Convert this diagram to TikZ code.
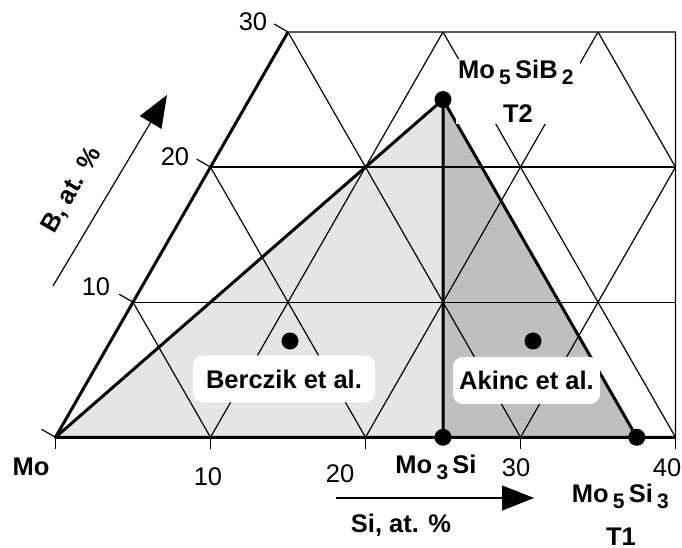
\documentclass[tikz,border=0pt]{standalone}
\usepackage{fontspec}
\setmainfont{Liberation Sans}
\usetikzlibrary{arrows.meta}
\newcommand{\chemsub}[1]{\,\raisebox{-6bp}{\fontsize{21bp}{21bp}\selectfont #1}\,}
\begin{document}
\begin{tikzpicture}[x={(15.5bp,0bp)}, y={(7.75bp,13.51bp)},
        gridline/.style={line width=1.2bp},
        axis/.style={line width=3bp, line join=round},
        tick/.style={line width=1.2bp},
        num/.style={font=\fontsize{25.5bp}{30bp}\selectfont},
        lbl/.style={font=\fontsize{25.5bp}{30bp}\selectfont\bfseries},
        refbox/.style={lbl, fill=white, rounded corners=10bp, minimum height=47bp, inner xsep=0pt},
        dot/.style={circle, fill=black, minimum size=17bp, inner sep=0pt},
        axisarrow/.style={line width=1.2bp, -{Triangle[length=32bp, width=25bp]}}]
    \useasboundingbox (-55.5bp,-110.7bp) rectangle (626.5bp,437.3bp);

    % compositions (Si, B in at.%)
    \coordinate (mo) at (0,0);
    \coordinate (mosib) at (12.5,25);
    \coordinate (mo3si) at (25,0);
    \coordinate (mo5si3) at (37.5,0);
    \coordinate (siend) at (40,0);
    \coordinate (bend) at (0,30);
    \coordinate (corner) at (25,30);

    % phase fields
    \fill[black!10] (mo) -- (mosib) -- (mo3si) -- cycle;
    \fill[black!25] (mo3si) -- (mosib) -- (mo5si3) -- cycle;

    % triangular grid
    \begin{scope}
        \clip (mo) -- (bend) -- (corner) -- (siend) -- cycle;
        \foreach \b in {10,20} \draw[gridline] (0,\b) -- (40,\b);
        \foreach \s in {10,20,30} \draw[gridline] (\s,0) -- (\s,30);
        \foreach \c in {10,20,...,50} \draw[gridline] (\c,0) -- ({\c-30},30);
    \end{scope}
    \draw[gridline] (bend) -- (corner) -- (siend);

    % axes and ticks
    \draw[axis] (bend) -- (mo) -- (siend);
    \foreach \s in {0,10,...,40} \draw[tick] (\s,0) -- ++(0bp,-12bp);
    \foreach \b in {0,10,20,30} \draw[tick] (0,\b) -- ++(150:16bp);

    \draw (152.5bp,-39.7bp) node[num] (s10) {10};
    \draw (284.5bp,-36.7bp) node[num] (s20) {20};
    \draw (460.5bp,-30.7bp) node[num] (s30) {30};
    \draw (611.5bp,-30.7bp) node[num] (s40) {40};
    \draw (40.5bp,150.3bp) node[num] (b10) {10};
    \draw (119.5bp,280.3bp) node[num] (b20) {20};
    \draw (197.5bp,415.3bp) node[num] (b30) {30};

    % tie lines
    \draw[axis] (mo) -- (mosib) -- (mo5si3);
    \draw[axis] (mosib) -- (mo3si);

    % axis arrows
    \coordinate (barrow0) at (-2.5bp,151.3bp);
    \coordinate (barrow1) at (111.5bp,342.3bp);
    \coordinate (siarrow0) at (280.5bp,-60.7bp);
    \coordinate (siarrow1) at (478.5bp,-60.7bp);
    \draw[axisarrow] (barrow0) -- (barrow1);
    \draw[axisarrow] (siarrow0) -- (siarrow1);
    \draw (16.5bp,247.3bp) node[lbl, rotate=60] (blabel) {B, at. \%};
    \draw (345.5bp,-94.7bp) node[lbl, anchor=base] (silabel) {Si, at. \%};

    % phase labels
    \draw (-24.5bp,-37.7bp) node[lbl, anchor=base] (molabel) {Mo};
    \draw (380.5bp,-35.7bp) node[lbl, anchor=base] (mo3silabel) {Mo\chemsub{3}Si};
    \draw (567bp,-64.7bp) node[lbl, anchor=base] (mo5si3label) {Mo\chemsub{5}Si\chemsub{3}};
    \draw (565.5bp,-108bp) node[lbl, anchor=base] (t1label) {T1};
    \draw (462.5bp,345.8bp) node[lbl, fill=white, align=center, inner xsep=2bp, inner ysep=1bp,
        font=\fontsize{25.5bp}{44bp}\selectfont\bfseries] (t2label) {Mo\chemsub{5}SiB\chemsub{2}\\T2};

    % literature compositions
    \draw (228.5bp,58.3bp) node[refbox, minimum width=182bp] (berczik) {Berczik et al.};
    \draw (471bp,56.8bp) node[refbox, minimum width=147bp] (akinc) {Akinc et al.};

    \node[dot] (dmosib) at (mosib) {};
    \node[dot] (dmo3si) at (mo3si) {};
    \node[dot] (dmo5si3) at (mo5si3) {};
    \node[dot] (dberczik) at (234.5bp,96.3bp) {};
    \node[dot] (dakinc) at (477.5bp,96.3bp) {};
\end{tikzpicture}
\end{document}
